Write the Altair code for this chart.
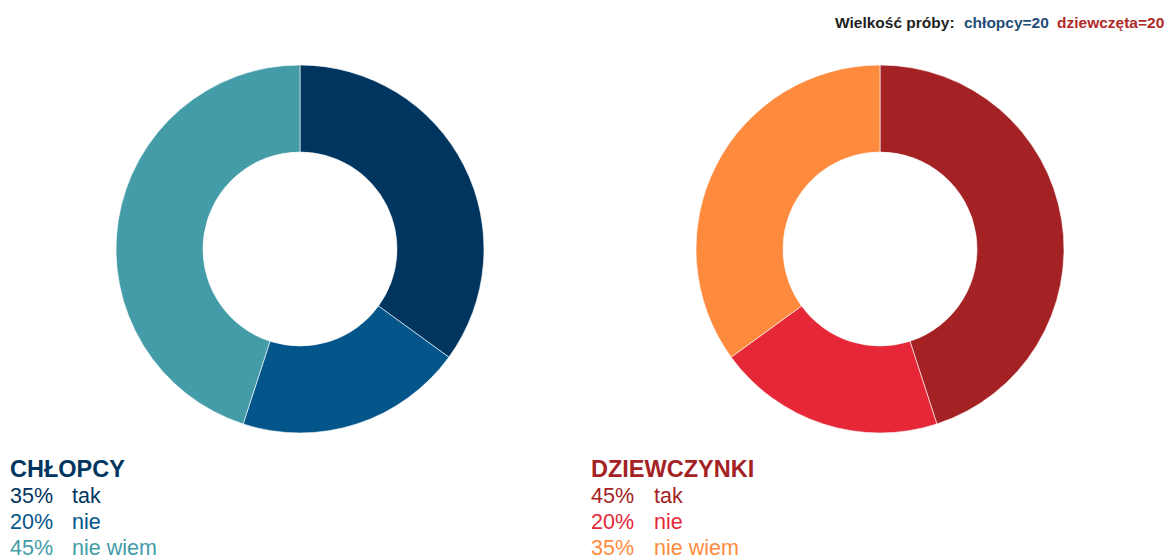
import altair as alt
import pandas as pd

answers = ["tak", "nie", "nie wiem"]
boys_pct = [35, 20, 45]
girls_pct = [45, 20, 35]
boys_colors = ["#003560", "#03558a", "#439ca7"]
girls_colors = ["#a52224", "#e52738", "#fe8a3e"]
groups = ["CHŁOPCY", "DZIEWCZYNKI"]
header = ["Wielkość próby:", "chłopcy=20", "dziewczęta=20"]
header_colors = ["#222222", "#1f4e79", "#b02a2a"]

rows = []
for g, pcts, cols in [("b", boys_pct, boys_colors), ("g", girls_pct, girls_colors)]:
    for i, (a, p, c) in enumerate(zip(answers, pcts, cols)):
        rows.append({"group": g, "answer": a, "pct": p, "order": i, "key": f"{g}-{a}",
                     "color": c, "label": f"{p}%"})
df = pd.DataFrame(rows)

keys = list(df["key"])
cols = list(df["color"])

W, H = 1159, 552
layers = []
centers = {"b": 292, "g": 872}
for g in ["b", "g"]:
    arc = alt.Chart(df[df.group == g]).mark_arc(
        outerRadius=184, innerRadius=97, stroke="#ffffff", strokeWidth=0.6
    ).encode(
        theta=alt.Theta("pct:Q", stack=True, scale=alt.Scale(domain=[0, 100])),
        color=alt.Color("key:N", scale=alt.Scale(domain=keys, range=cols), legend=None),
        order=alt.Order("order:Q"),
        x=alt.value(centers[g]),
        y=alt.value(241),
    )
    layers.append(arc)

# group titles and legend lines
title_x = {"b": 2, "g": 583}
label_dx = {"b": 62, "g": 63}
for gi, g in enumerate(["b", "g"]):
    sub = df[df.group == g]
    tdf = pd.DataFrame({"t": [groups[gi]]})
    layers.append(alt.Chart(tdf).mark_text(
        align="left", baseline="alphabetic", fontSize=23.5, fontWeight=900,
        font="Liberation Sans", color=sub["color"].iloc[0]
    ).encode(text="t:N", x=alt.value(title_x[g]), y=alt.value(469)))
    for i in range(3):
        r = sub.iloc[[i]]
        c = r["color"].iloc[0]
        layers.append(alt.Chart(r).mark_text(
            align="left", baseline="alphabetic", fontSize=21.5, font="Liberation Sans", color=c
        ).encode(text="label:N", x=alt.value(title_x[g]), y=alt.value(495 + 26 * i)))
        layers.append(alt.Chart(r).mark_text(
            align="left", baseline="alphabetic", fontSize=21.5, font="Liberation Sans", color=c
        ).encode(text="answer:N", x=alt.value(title_x[g] + label_dx[g]), y=alt.value(495 + 26 * i)))

hx = [827, 956, 1049]
for t, c, x in zip(header, header_colors, hx):
    hdf = pd.DataFrame({"t": [t]})
    layers.append(alt.Chart(hdf).mark_text(
        align="left", baseline="alphabetic", fontSize=15.5, fontWeight="bold",
        font="Liberation Sans", color=c
    ).encode(text="t:N", x=alt.value(x), y=alt.value(20)))

chart = alt.layer(*layers).properties(
    width=W, height=H, autosize=alt.AutoSizeParams(type="none"), padding=0
).configure_view(stroke=None)

chart.save("out.html", embed_options={"renderer": "svg", "actions": False})
